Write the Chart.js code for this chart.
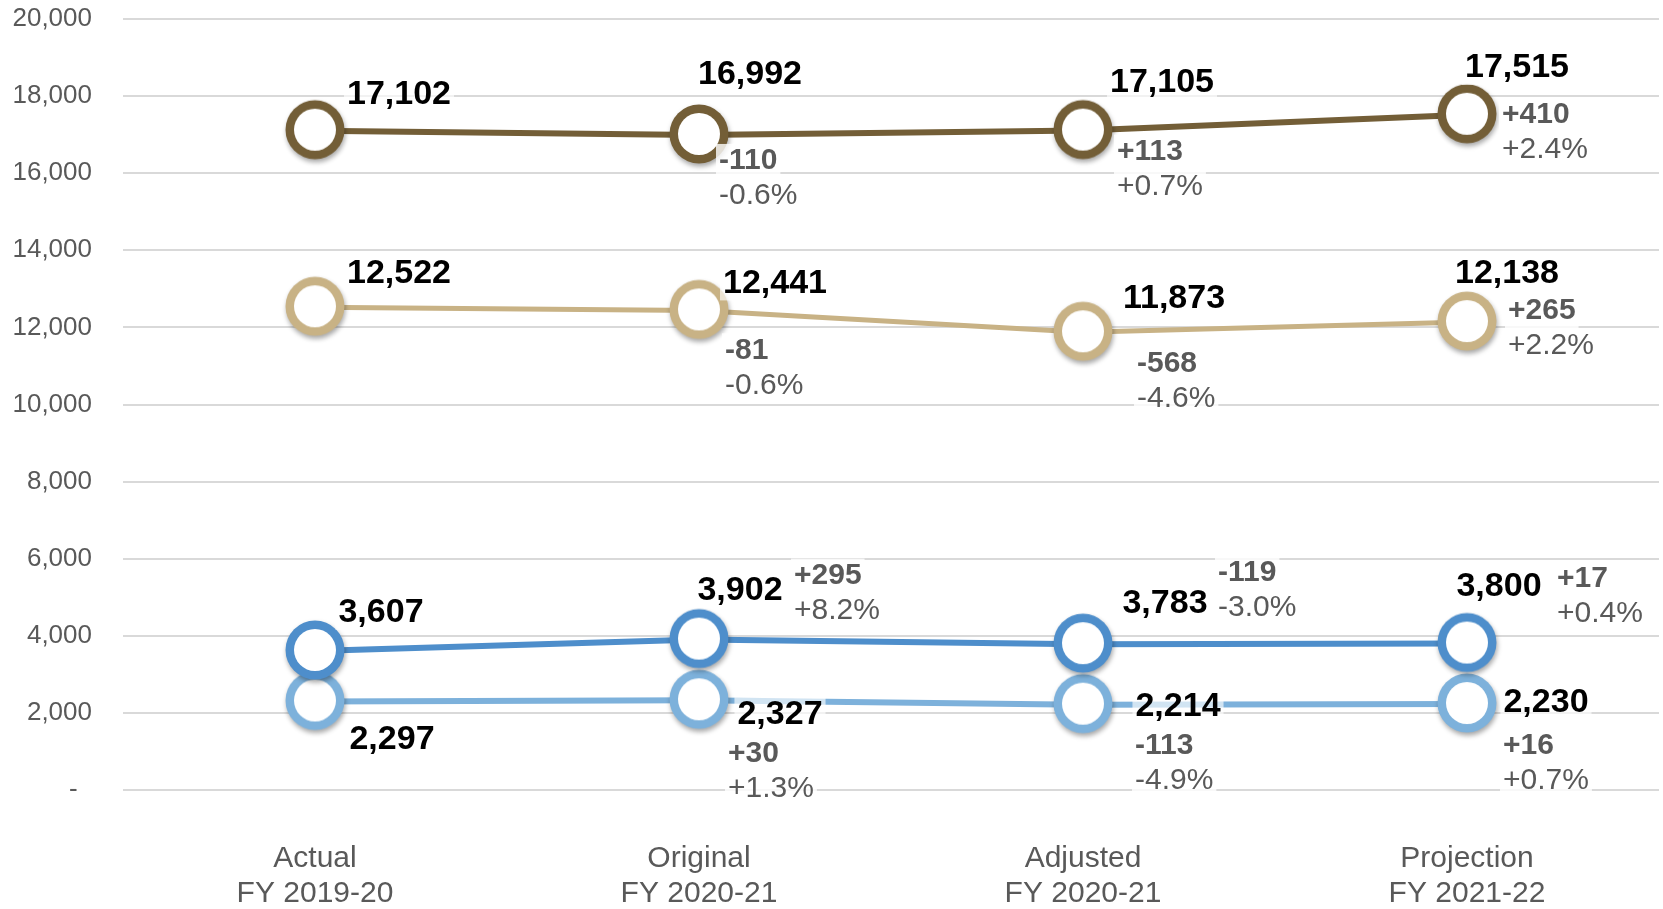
<!DOCTYPE html>
<html>
<head>
<meta charset="utf-8">
<script src="https://cdn.jsdelivr.net/npm/chart.js@4.4.1/dist/chart.umd.min.js"></script>
<style>
    html, body { margin: 0; padding: 0; background: #fff; }
    #wrap { width: 1663px; height: 909px; position: relative; }
</style>
</head>
<body>
<div id="wrap"><canvas id="chart"></canvas></div>
<script>
// Dados
const categories = [
    ['Actual', 'FY 2019-20'],
    ['Original', 'FY 2020-21'],
    ['Adjusted', 'FY 2020-21'],
    ['Projection', 'FY 2021-22']
];
const series1 = [17102, 16992, 17105, 17515];
const series2 = [12522, 12441, 11873, 12138];
const series3 = [3607, 3902, 3783, 3800];
const series4 = [2297, 2327, 2214, 2230];
const yMin = 0;
const yMax = 20000;
const yStep = 2000;

const colors = ['#735E37', '#C8B285', '#4E8ECB', '#7DB1DB'];
const lineWidths = [6, 5, 6, 6];

// Posição dos rótulos (deslocamento em px a partir do ponto)
const valueOffsets = [
    [[84, -36], [51, -60], [79, -48], [50, -47]],
    [[84, -34], [76, -27], [91, -34], [40, -48]],
    [[66, -38], [41, -49], [82, -41], [32, -57]],
    [[77, 38], [81, 14], [95, 2], [79, -1]]
];
const changeOffsets = [
    [null, [20, 26], [34, 21], [35, 0]],
    [null, [26, 40], [54, 31], [41, -11]],
    [null, [95, -64], [135, -71], [90, -65]],
    [null, [29, 53], [52, 41], [36, 42]]
];

const FONT = '"Liberation Sans", Arial, sans-serif';
const fmt = v => v.toLocaleString('en-US');
const sign = v => (v > 0 ? '+' : v < 0 ? '-' : '');

function makeMarker(color) {
    const c = document.createElement('canvas');
    c.width = 74;
    c.height = 74;
    const g = c.getContext('2d');
    g.save();
    g.shadowColor = 'rgba(0,0,0,0.35)';
    g.shadowBlur = 5;
    g.shadowOffsetX = 1;
    g.shadowOffsetY = 3;
    g.beginPath();
    g.arc(37, 36, 29.5, 0, Math.PI * 2);
    g.fillStyle = color;
    g.fill();
    g.restore();
    g.beginPath();
    g.arc(37, 36, 21, 0, Math.PI * 2);
    g.fillStyle = '#fff';
    g.fill();
    return c;
}

function boxText(ctx, text, x, y, align, font, color, alpha) {
    ctx.font = font;
    const w = ctx.measureText(text).width;
    const left = align === 'center' ? x - w / 2 : x;
    ctx.fillStyle = 'rgba(255,255,255,' + alpha + ')';
    ctx.fillRect(left - 3, y - 17, w + 6, 34);
    ctx.fillStyle = color;
    ctx.textAlign = align;
    ctx.textBaseline = 'middle';
    ctx.fillText(text, x, y);
}

const labelPlugin = {
    id: 'pointLabels',
    afterDatasetsDraw(chart) {
        const ctx = chart.ctx;
        ctx.save();
        chart.data.datasets.forEach((ds, i) => {
            const meta = chart.getDatasetMeta(i);
            meta.data.forEach((pt, j) => {
                const v = ds.data[j];
                const vo = valueOffsets[i][j];
                boxText(ctx, fmt(v), pt.x + vo[0], pt.y + vo[1], 'center', 'bold 34px ' + FONT, '#000', 0.65);
                const co = changeOffsets[i][j];
                if (co) {
                    const prev = ds.data[j - 1];
                    const diff = v - prev;
                    const pct = (diff / prev * 100).toFixed(1);
                    boxText(ctx, sign(diff) + fmt(Math.abs(diff)), pt.x + co[0], pt.y + co[1], 'left', 'bold 30px ' + FONT, '#595959', 0.8);
                    boxText(ctx, (diff >= 0 ? '+' : '') + pct + '%', pt.x + co[0], pt.y + co[1] + 35, 'left', '30px ' + FONT, '#595959', 0.8);
                }
            });
        });
        ctx.restore();
    }
};

const seriesList = [series1, series2, series3, series4];

new Chart(document.getElementById('chart'), {
    type: 'line',
    data: {
        labels: categories,
        datasets: seriesList.map((s, i) => ({
            data: s,
            borderColor: colors[i],
            borderWidth: lineWidths[i],
            pointStyle: makeMarker(colors[i]),
            pointRadius: 28,
            pointHoverRadius: 28,
            tension: 0,
            fill: false,
            clip: false
        }))
    },
    options: {
        responsive: true,
        maintainAspectRatio: false,
        devicePixelRatio: 1,
        animation: false,
        events: [],
        layout: { autoPadding: false, padding: { top: 19, right: 4, left: 0, bottom: 0 } },
        plugins: {
            legend: { display: false },
            tooltip: { enabled: false }
        },
        scales: {
            x: {
                offset: true,
                grid: { display: false, drawTicks: false },
                border: { display: false },
                ticks: {
                    padding: 52,
                    color: '#595959',
                    font: { family: FONT, size: 30, lineHeight: 1.14 },
                    maxRotation: 0
                },
                afterFit: s => {
                    s.height = 119;
                    s.paddingLeft = 0;
                    s.paddingRight = 0;
                }
            },
            y: {
                min: yMin,
                max: yMax,
                grid: { color: '#D9D9D9', lineWidth: 2, drawTicks: false },
                border: { display: false },
                ticks: {
                    stepSize: yStep,
                    padding: 31,
                    color: '#595959',
                    font: { family: FONT, size: 26 },
                    callback: v => (v === 0 ? '-  ' : fmt(v))
                },
                afterFit: s => {
                    s.width = 123;
                    s.paddingTop = 0;
                    s.paddingBottom = 0;
                }
            }
        }
    },
    plugins: [labelPlugin]
});
</script>
</body>
</html>
